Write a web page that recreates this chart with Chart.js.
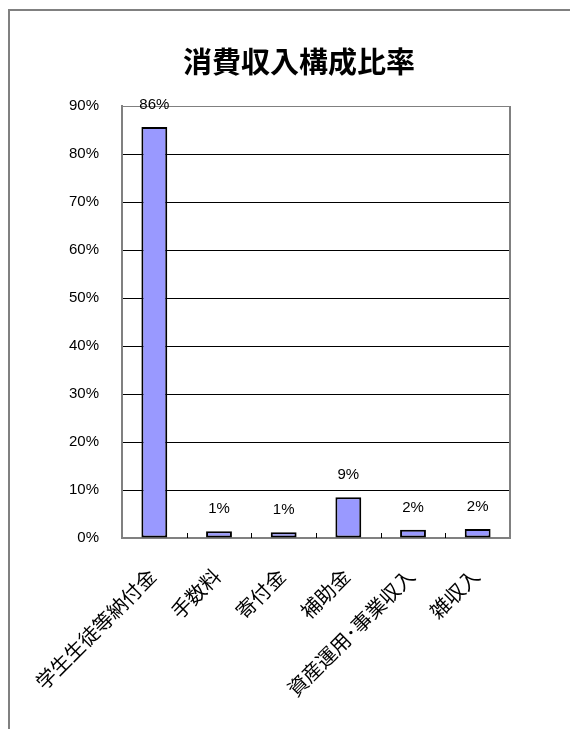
<!DOCTYPE html>
<html lang="ja">
<head>
<meta charset="utf-8">
<title>消費収入構成比率</title>
<script src="https://cdn.jsdelivr.net/npm/chart.js@4/dist/chart.umd.min.js"></script>
<style>
    html, body {
        margin: 0;
        padding: 0;
        width: 570px;
        height: 729px;
        background: #fff;
        overflow: hidden;
    }
    .chart-title {
        position: absolute;
        left: 0;
        top: 42px;
        width: 598px;
        margin: 0;
        text-align: center;
        font: bold 29px/36px "Noto Sans CJK JP", "Noto Sans", sans-serif;
        color: #000;
        z-index: 1;
    }
    #incomeChart {
        position: absolute;
        left: 0;
        top: 0;
    }
</style>
</head>
<body>
<h1 class="chart-title">消費収入構成比率</h1>
<canvas id="incomeChart" width="570" height="729"></canvas>
<script>
// Income categories and their share of total (%)
const categories = ['学生生徒等納付金', '手数料', '寄付金', '補助金', '資産運用･事業収入', '雑収入'];
const shares = [85.6, 1.4, 1.2, 8.5, 1.7, 1.9];

// Y axis range (%)
const yMax = 90;
const yStep = 10;

const cjkFont = '"Noto Sans CJK JP", "Noto Sans", sans-serif';
const numFont = '"Liberation Sans", Arial, sans-serif';

// Outer chart frame (runs off the right and bottom edges)
const outerFrame = {
    id: 'outerFrame',
    beforeDraw(chart) {
        const ctx = chart.ctx;
        ctx.save();
        ctx.fillStyle = '#fff';
        ctx.fillRect(0, 0, chart.width, chart.height);
        ctx.strokeStyle = '#808080';
        ctx.lineWidth = 2;
        ctx.strokeRect(9, 10, chart.width + 50, chart.height + 50);
        ctx.restore();
    }
};

// Value labels above each bar
const valueLabels = {
    id: 'valueLabels',
    afterDatasetsDraw(chart) {
        const ctx = chart.ctx;
        const meta = chart.getDatasetMeta(0);
        ctx.save();
        ctx.font = '15px ' + numFont;
        ctx.fillStyle = '#000';
        ctx.textAlign = 'center';
        ctx.textBaseline = 'middle';
        meta.data.forEach((bar, i) => {
            ctx.fillText(Math.round(shares[i]) + '%', bar.x, bar.y - 22);
        });
        ctx.restore();
    }
};

// Right border of the plot and small inner ticks between categories
const plotFrame = {
    id: 'plotFrame',
    afterDraw(chart) {
        const ctx = chart.ctx;
        const area = chart.chartArea;
        const x = chart.scales.x;
        ctx.save();
        ctx.strokeStyle = '#808080';
        ctx.lineWidth = 2;
        ctx.beginPath();
        ctx.moveTo(area.right, area.top);
        ctx.lineTo(area.right, area.bottom);
        ctx.stroke();

        ctx.strokeStyle = '#000';
        ctx.lineWidth = 1;
        for (let i = 1; i < categories.length; i++) {
            const px = Math.round((x.getPixelForValue(i - 1) + x.getPixelForValue(i)) / 2) + 0.5;
            ctx.beginPath();
            ctx.moveTo(px, area.bottom);
            ctx.lineTo(px, area.bottom - 5);
            ctx.stroke();
        }
        ctx.restore();
    }
};

const incomeCtx = document.getElementById('incomeChart').getContext('2d');
const incomeChart = new Chart(incomeCtx, {
    type: 'bar',
    data: {
        labels: categories,
        datasets: [{
            data: shares,
            backgroundColor: '#9999ff',
            borderColor: '#000',
            borderWidth: 2,
            borderSkipped: false,
            categoryPercentage: 1,
            barPercentage: 0.4
        }]
    },
    options: {
        responsive: false,
        animation: false,
        layout: {
            padding: { left: 0, right: 60, top: 106, bottom: 0 }
        },
        plugins: {
            legend: { display: false },
            tooltip: { enabled: false },
            title: { display: false }
        },
        scales: {
            y: {
                min: 0,
                max: yMax,
                ticks: {
                    stepSize: yStep,
                    padding: 23,
                    color: '#000',
                    font: { family: numFont, size: 15 },
                    callback: v => v + '%'
                },
                grid: {
                    drawTicks: false,
                    color: ctx => ctx.tick && ctx.tick.value === yMax ? '#808080' : '#000',
                    lineWidth: 1
                },
                border: { color: '#808080', width: 2 },
                afterFit: scale => { scale.width = 122; }
            },
            x: {
                ticks: {
                    autoSkip: false,
                    minRotation: 45,
                    maxRotation: 45,
                    padding: 18,
                    labelOffset: -2,
                    color: '#000',
                    font: { family: cjkFont, size: 20 }
                },
                grid: { display: false },
                border: { color: '#808080', width: 2 },
                afterFit: scale => { scale.height = 191; }
            }
        }
    },
    plugins: [outerFrame, valueLabels, plotFrame]
});
</script>
</body>
</html>
